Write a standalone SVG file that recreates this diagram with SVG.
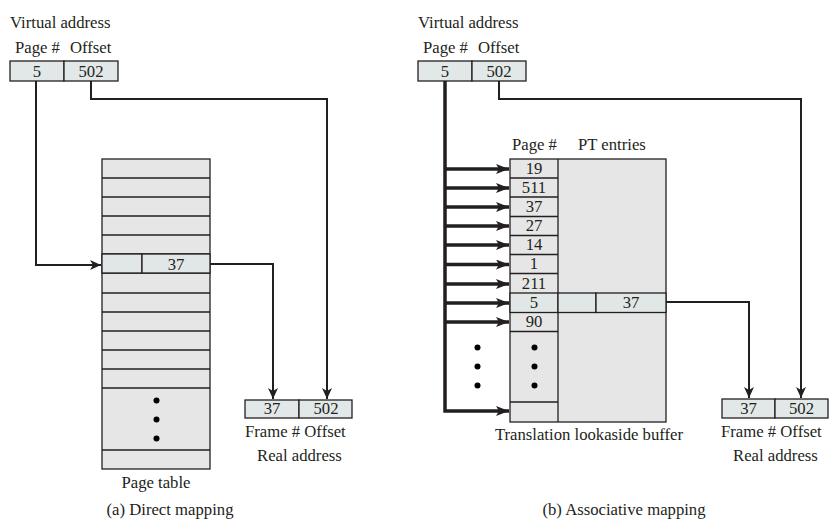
<svg xmlns="http://www.w3.org/2000/svg" width="836" height="525" viewBox="0 0 836 525">
<defs>
<style>
text{font-family:"Liberation Serif","Times New Roman",serif;font-size:16.7px;fill:#231f20}
.c{text-anchor:middle}
.box{fill:#e2e8e8;stroke:#231f20;stroke-width:1.3}
.pt{fill:#e6e6e6;stroke:#231f20;stroke-width:1.3}
.hl{fill:#e1e6e6;stroke:#231f20;stroke-width:1.3}
.ln{fill:none;stroke:#231f20;stroke-width:2}
.tk{fill:none;stroke:#231f20;stroke-width:3.5}
</style>
<marker id="a" markerUnits="userSpaceOnUse" markerWidth="12" markerHeight="10" refX="11" refY="5" orient="auto"><path d="M0,0 L11,5 L0,10 L3,5 Z" fill="#231f20"/></marker>
<marker id="b" markerUnits="userSpaceOnUse" markerWidth="14" markerHeight="10" refX="13" refY="5" orient="auto"><path d="M0,0 L13,5 L0,10 L3,5 Z" fill="#231f20"/></marker>
</defs>

<g id="connectors">
<path class="ln" d="M36,81 V265 H101" marker-end="url(#a)"/>
<path class="ln" d="M91,81 V99 H327 V399" marker-end="url(#a)"/>
<path class="ln" d="M210,264 H273 V399" marker-end="url(#a)"/>
<path class="tk" d="M445,81 V411 H509" marker-end="url(#b)"/>
<path class="tk" d="M445,169 H509" marker-end="url(#b)"/>
<path class="tk" d="M445,188 H509" marker-end="url(#b)"/>
<path class="tk" d="M445,207 H509" marker-end="url(#b)"/>
<path class="tk" d="M445,226 H509" marker-end="url(#b)"/>
<path class="tk" d="M445,245 H509" marker-end="url(#b)"/>
<path class="tk" d="M445,264.5 H509" marker-end="url(#b)"/>
<path class="tk" d="M445,284 H509" marker-end="url(#b)"/>
<path class="tk" d="M445,303 H509" marker-end="url(#b)"/>
<path class="tk" d="M445,322 H509" marker-end="url(#b)"/>
<path class="ln" d="M499,81 V99 H801 V398" marker-end="url(#a)"/>
<path class="ln" d="M666,302 H749 V398" marker-end="url(#a)"/>
</g>

<g id="va-left">
<text x="10" y="28">Virtual address</text>
<text x="15" y="53">Page #</text>
<text x="70" y="53">Offset</text>
<rect class="box" x="10" y="61" width="54" height="20"/>
<rect class="box" x="64" y="61" width="54" height="20"/>
<text class="c" x="37" y="77">5</text>
<text class="c" x="91" y="77">502</text>
</g>

<g id="page-table">
<rect class="pt" x="102" y="159" width="108" height="310"/>
<path class="ln" style="stroke-width:1.3" d="M102,178H210M102,197H210M102,216H210M102,235H210M102,254H210M102,273H210M102,293H210M102,312H210M102,331H210M102,350H210M102,369H210M102,388H210M102,450H210"/>
<rect class="hl" x="102" y="254" width="40" height="19"/>
<rect class="hl" x="142" y="254" width="68" height="19"/>
<text class="c" x="176" y="270">37</text>
<circle cx="156.5" cy="400.5" r="3"/>
<circle cx="156.5" cy="419.5" r="3"/>
<circle cx="156.5" cy="438.5" r="3"/>
<text class="c" x="156" y="488">Page table</text>
</g>

<g id="ra-left">
<rect class="box" x="245" y="400" width="54" height="18"/>
<rect class="box" x="299" y="400" width="53" height="18"/>
<text class="c" x="272" y="414">37</text>
<text class="c" x="326" y="414">502</text>
<text x="245" y="437">Frame # Offset</text>
<text x="257" y="461">Real address</text>
</g>

<text class="c" x="170" y="515">(a) Direct mapping</text>

<g id="va-right">
<text x="418" y="28">Virtual address</text>
<text x="423" y="53">Page #</text>
<text x="478" y="53">Offset</text>
<rect class="box" x="418" y="61" width="54" height="20"/>
<rect class="box" x="472" y="61" width="54" height="20"/>
<text class="c" x="445" y="77">5</text>
<text class="c" x="499" y="77">502</text>
</g>

<g id="tlb">
<text x="512" y="150">Page #</text>
<text x="578" y="150">PT entries</text>
<rect class="pt" x="510" y="159" width="156" height="263"/>
<path class="ln" style="stroke-width:1.3" d="M558,159V422M510,178H558M510,197H558M510,216.5H558M510,235.5H558M510,254.5H558M510,273.5H558M510,331.5H558M510,402H558"/>
<rect class="hl" x="510" y="293" width="48" height="19.5"/>
<rect class="hl" x="558" y="293" width="38" height="19.5"/>
<rect class="hl" x="596" y="293" width="70" height="19.5"/>
<text class="c" x="534" y="174">19</text>
<text class="c" x="534" y="193">511</text>
<text class="c" x="534" y="212">37</text>
<text class="c" x="534" y="231">27</text>
<text class="c" x="534" y="250">14</text>
<text class="c" x="534" y="269">1</text>
<text class="c" x="534" y="288.5">211</text>
<text class="c" x="534" y="308">5</text>
<text class="c" x="631" y="308">37</text>
<text class="c" x="534" y="327">90</text>
<circle cx="534.5" cy="347.5" r="3"/>
<circle cx="534.5" cy="366.5" r="3"/>
<circle cx="534.5" cy="385.5" r="3"/>
<circle cx="477.5" cy="347.5" r="3"/>
<circle cx="477.5" cy="366.5" r="3"/>
<circle cx="477.5" cy="385.5" r="3"/>
<text class="c" x="589" y="440">Translation lookaside buffer</text>
</g>

<g id="ra-right">
<rect class="box" x="722" y="399" width="53" height="19"/>
<rect class="box" x="775" y="399" width="53" height="19"/>
<text class="c" x="748.5" y="414">37</text>
<text class="c" x="801.5" y="414">502</text>
<text x="721" y="437">Frame # Offset</text>
<text x="733" y="461">Real address</text>
</g>

<text class="c" x="624" y="515">(b) Associative mapping</text>
</svg>
